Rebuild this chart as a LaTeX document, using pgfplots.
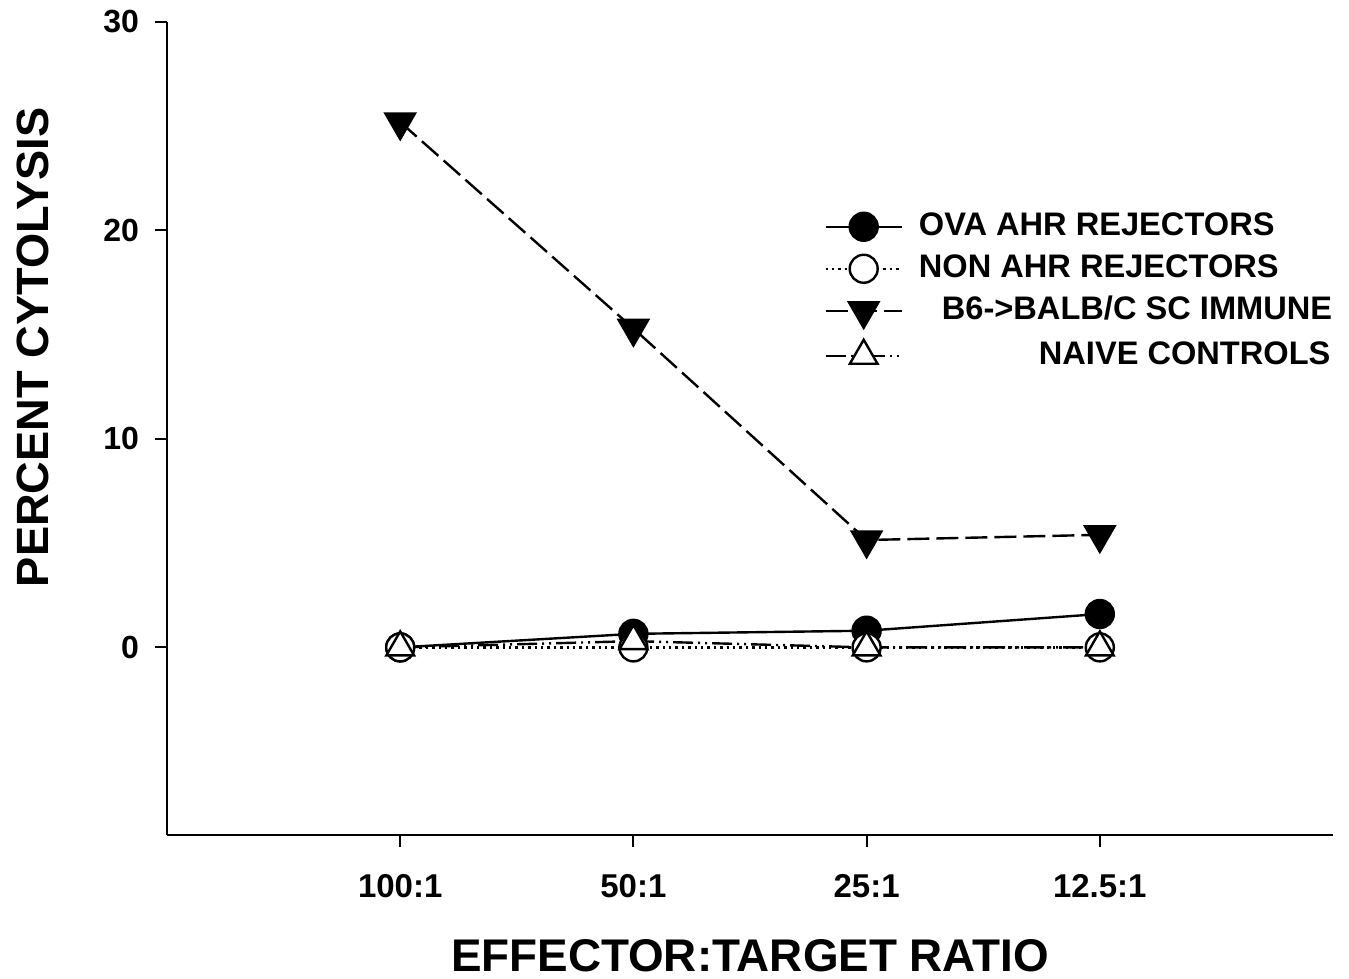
\documentclass[border=0pt]{standalone}
\usepackage{fontspec}
\setmainfont{Liberation Sans}
\usepackage{pgfplots}
\pgfplotsset{compat=1.18}
\begin{document}
\begin{tikzpicture}
\begin{axis}[name=ax, scale only axis, width=583pt, height=406.5pt,
  xmin=-1, xmax=4, ymin=-9, ymax=30,
  axis lines*=left,
  axis line style={line width=1.3pt},
  xtick={0,1,2,3}, xticklabels={100:1,50:1,25:1,12.5:1},
  ytick={0,10,20,30},
  tick align=outside, major tick length=6pt,
  tick style={black, line width=1pt},
  /pgf/number format/assume math mode=true,
  x tick label style={font=\fontsize{16.5}{18}\selectfont\bfseries, yshift=-10pt},
  y tick label style={font=\fontsize{16}{18}\selectfont\bfseries, xshift=-4.5pt},
  xlabel={EFFECTOR:TARGET RATIO},
  ylabel={PERCENT CYTOLYSIS},
  xlabel style={font=\fontsize{22.9}{25}\selectfont\bfseries, at={(axis description cs:0.5,-0.148)}, anchor=center},
  ylabel style={font=\fontsize{22.6}{25}\selectfont\bfseries, at={(axis description cs:-0.115,0.6)}, anchor=center, rotate=0},
  legend style={at={(axis description cs:0.5584,0.772)}, anchor=north west, draw=none, fill=none,
    font=\fontsize{16.3}{18}\selectfont\bfseries,
    nodes={inner sep=0pt, text height=12pt, text depth=3pt},
    row sep=6pt, column sep=8pt},
  legend cell align=left,
  legend image code/.code={\draw[mark repeat=2,mark phase=2,#1] plot coordinates {(0pt,0pt) (19pt,0pt) (38pt,0pt)};},
  every axis plot/.append style={line width=1.2pt, black},
  clip=false,
]
\addplot[solid, mark=*, mark size=7pt, mark options={solid, fill=black}] coordinates {(0,0) (1,0.65) (2,0.8) (3,1.6)};
\addlegendentry{OVA AHR REJECTORS}
\addplot[dotted, mark=*, mark size=7pt, mark options={solid, fill=white}] coordinates {(0,0) (1,0) (2,0) (3,0)};
\addlegendentry{NON AHR REJECTORS}
\addplot[dash pattern=on 11pt off 3.5pt, mark=triangle*, mark size=8.5pt, mark options={solid, fill=black, rotate=180}] coordinates {(0,25.2) (1,15.3) (2,5.15) (3,5.4)};
\addlegendentry{\hspace*{11.5pt}B6->BALB/C SC IMMUNE}
\addplot[dash pattern=on 10pt off 2.5pt on 1pt off 2.5pt on 1pt off 2.5pt, mark=triangle*, mark size=8pt, mark options={solid, fill=white}] coordinates {(0,0) (1,0.3) (2,0) (3,0)};
\addlegendentry{\hspace*{60pt}NAIVE CONTROLS}
\end{axis}
\path ([shift={(-83.5pt,-71pt)}]ax.south west) rectangle ([shift={(8pt,11pt)}]ax.north east);
\end{tikzpicture}
\end{document}
